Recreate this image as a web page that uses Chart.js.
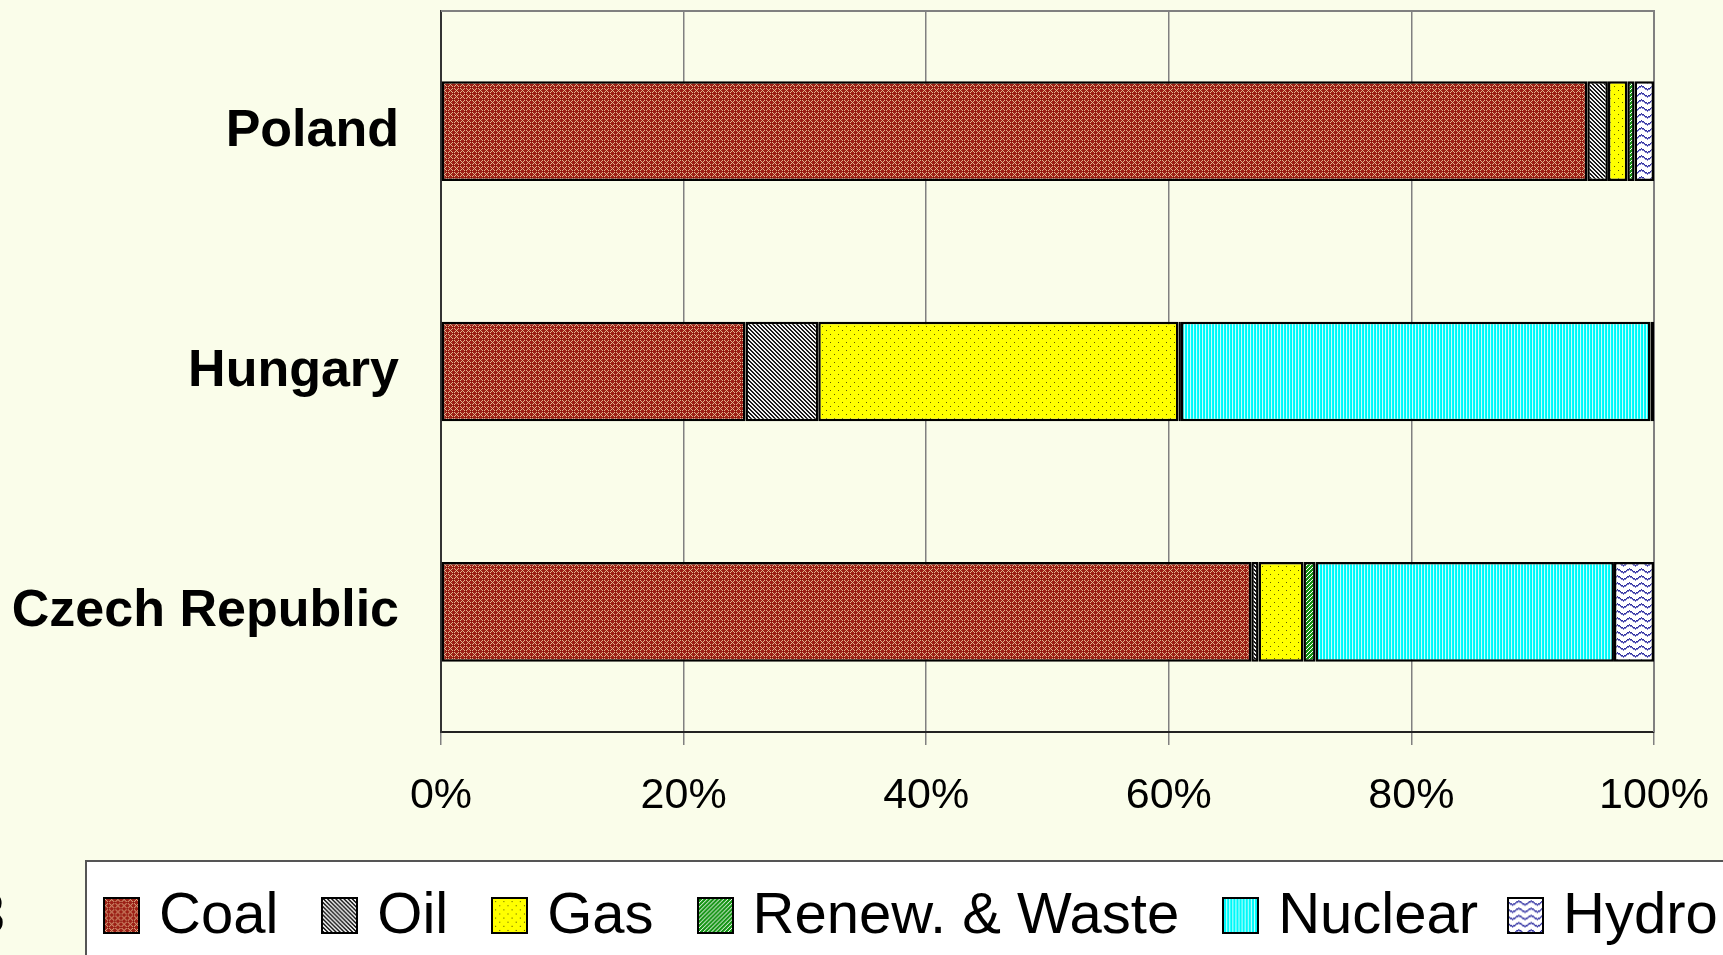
<!DOCTYPE html>
<html>
<head>
<meta charset="utf-8">
<script src="https://cdn.jsdelivr.net/npm/chart.js@4.4.1/dist/chart.umd.min.js"></script>
<style>
  html, body { margin: 0; padding: 0; background: #fafdea; overflow: hidden; }
  body { width: 1723px; height: 955px; position: relative; font-family: "Liberation Sans", Arial, sans-serif; }
  #wrap { position: absolute; left: 0; top: 0; width: 1723px; height: 860px; }
  #legend {
    position: absolute; left: 85px; top: 860px; width: 1700px; height: 110px;
    background: #fff; border: 2px solid #555; box-sizing: border-box;
    display: flex; align-items: center; padding-left: 16px; white-space: nowrap;
  }
  .item { display: flex; align-items: center; margin-right: 43px; }
  .item.nuc { margin-right: 29px; }
  .item canvas { width: 37px; height: 37px; box-sizing: border-box; border: 2.5px solid #000; margin-right: 19px; }
  .item span { font-size: 58px; color: #000; line-height: 1; position: relative; top: -2px; }
  #frag { position: absolute; left: -27px; top: 884px; font-size: 58px; line-height: 1; color: #000; }
</style>
</head>
<body>
<div id="wrap"><canvas id="chart"></canvas></div>
<div id="frag">3</div>
<div id="legend"></div>
<script>
// share of electricity generation by source, %
const countries = ['Poland', 'Hungary', 'Czech Republic'];
const coal    = [94.5, 25.1, 66.8];
const oil     = [1.7, 6.0, 0.6];
const gas     = [1.6, 29.7, 3.7];
const renew   = [0.6, 0.2, 1.0];
const nuclear = [0, 38.7, 24.6];
const hydro   = [1.6, 0.3, 3.3];
const xTicks  = [0, 20, 40, 60, 80, 100];

const CTX = document.getElementById('chart').getContext('2d');

function tile(w, h, fn) {
  const c = document.createElement('canvas');
  c.width = w; c.height = h;
  const g = c.getContext('2d');
  fn(g, w, h);
  return CTX.createPattern(c, 'repeat');
}
function px(g, x, y, col) { g.fillStyle = col; g.fillRect(x, y, 1, 1); }

const patterns = {
  coal: tile(6, 6, (g, w, h) => {
    g.fillStyle = '#9c2016'; g.fillRect(0, 0, w, h);
    for (let x = 0; x < w; x++) for (let y = 0; y < h; y++) {
      if ((x + y) % 6 === 0 || (x - y + 6) % 6 === 0) px(g, x, y, '#e2b58c');
    }
    px(g, 3, 3, '#7a0a05');
  }),
  oil: tile(8, 8, (g, w, h) => {
    g.fillStyle = '#f2f2f2'; g.fillRect(0, 0, w, h);
    for (let x = 0; x < w; x++) for (let y = 0; y < h; y++) {
      if ((x - y + 8) % 4 < 2) px(g, x, y, '#1a1a1a');
    }
  }),
  gas: tile(8, 8, (g, w, h) => {
    g.fillStyle = '#ffff00'; g.fillRect(0, 0, w, h);
    px(g, 2, 2, '#5a5a00'); px(g, 6, 6, '#5a5a00');
  }),
  renew: tile(4, 4, (g, w, h) => {
    g.fillStyle = '#ffffff'; g.fillRect(0, 0, w, h);
    for (let x = 0; x < w; x++) for (let y = 0; y < h; y++) {
      if ((x + y) % 4 < 3) px(g, x, y, '#159415');
    }
  }),
  nuclear: tile(3, 1, (g) => {
    px(g, 0, 0, '#00ffff'); px(g, 1, 0, '#00f4f4'); px(g, 2, 0, '#c4ffff');
  }),
  hydro: tile(12, 7, (g, w) => {
    g.fillStyle = '#ffffff'; g.fillRect(0, 0, w, 7);
    for (let x = 0; x < w; x++) {
      const y = Math.round(3 + 1.6 * Math.sin(2 * Math.PI * x / w));
      px(g, x, y, '#2f2f9e');
      px(g, x, y + 1, '#7a7ac8');
    }
  })
};

const series = [
  { label: 'Coal', data: coal, bg: patterns.coal },
  { label: 'Oil', data: oil, bg: patterns.oil },
  { label: 'Gas', data: gas, bg: patterns.gas },
  { label: 'Renew. & Waste', data: renew, bg: patterns.renew },
  { label: 'Nuclear', data: nuclear, bg: patterns.nuclear },
  { label: 'Hydro', data: hydro, bg: patterns.hydro }
];

// gray frame on top/right of plot area
const frame = {
  id: 'frame',
  beforeDatasetsDraw(chart) {
    const { ctx, chartArea: a } = chart;
    ctx.save();
    ctx.strokeStyle = '#808080';
    ctx.lineWidth = 2;
    ctx.beginPath();
    ctx.moveTo(a.left, a.top);
    ctx.lineTo(a.right, a.top);
    ctx.lineTo(a.right, a.bottom);
    ctx.stroke();
    ctx.restore();
  }
};

new Chart(CTX, {
  type: 'bar',
  data: {
    labels: countries,
    datasets: series.map(s => ({
      label: s.label,
      data: s.data,
      backgroundColor: s.bg,
      borderColor: '#000',
      borderWidth: 2.5,
      borderSkipped: false,
      barPercentage: 0.415,
      categoryPercentage: 1
    }))
  },
  options: {
    indexAxis: 'y',
    responsive: true,
    maintainAspectRatio: false,
    animation: false,
    layout: { padding: { left: 0, right: 69, top: 11, bottom: 0 } },
    plugins: { legend: { display: false }, tooltip: { enabled: false } },
    scales: {
      x: {
        stacked: true,
        min: 0, max: 100,
        afterBuildTicks: s => { s.ticks = xTicks.map(v => ({ value: v })); },
        afterFit: s => { s.height = 128; s.paddingLeft = 0; s.paddingRight = 0; },
        ticks: {
          color: '#000',
          padding: 25,
          font: { family: 'Liberation Sans, Arial', size: 43 },
          callback: v => v + '%'
        },
        grid: { color: '#808080', lineWidth: 1.5, tickLength: 13, tickColor: '#808080' },
        border: { color: '#222', width: 2 }
      },
      y: {
        stacked: true,
        afterFit: s => { s.width = 441; s.paddingTop = 0; s.paddingBottom = 0; },
        ticks: {
          color: '#000',
          padding: 34,
          font: { family: 'Liberation Sans, Arial', size: 52, weight: 'bold' }
        },
        grid: { display: false },
        border: { color: '#333', width: 2 }
      }
    }
  },
  plugins: [frame]
});

// html legend with the same fills
const legendEl = document.getElementById('legend');
series.forEach(s => {
  const item = document.createElement('div');
  item.className = 'item' + (s.label === 'Nuclear' ? ' nuc' : '');
  const sw = document.createElement('canvas');
  sw.width = 32; sw.height = 32;
  const g = sw.getContext('2d');
  g.fillStyle = s.bg; g.fillRect(0, 0, 32, 32);
  const t = document.createElement('span');
  t.textContent = s.label;
  item.appendChild(sw); item.appendChild(t);
  legendEl.appendChild(item);
});
</script>
</body>
</html>
